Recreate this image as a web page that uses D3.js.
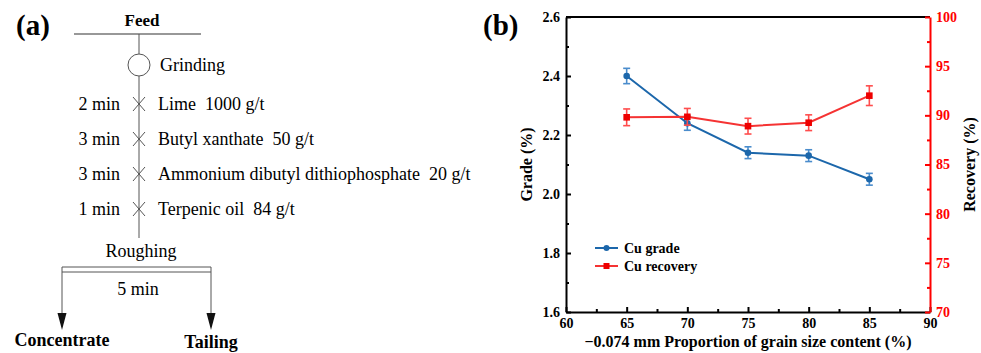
<!DOCTYPE html>
<html>
<head>
<meta charset="utf-8">
<script src="https://cdn.jsdelivr.net/npm/d3@7"></script>
<style>
  body { margin: 0; background: #fff; }
</style>
</head>
<body>
<div id="chart"></div>
<script>
// Panel (a): flowsheet steps
const stepTimes = ['2 min', '3 min', '3 min', '1 min'];
const stepReagents = ['Lime  1000 g/t', 'Butyl xanthate  50 g/t', 'Ammonium dibutyl dithiophosphate  20 g/t', 'Terpenic oil  84 g/t'];
const products = ['Concentrate', 'Tailing'];

// Panel (b): data
const sizeContent = [65, 70, 75, 80, 85];
const cuGrade = [2.40, 2.24, 2.14, 2.13, 2.05];
const cuGradeErr = [0.026, 0.024, 0.02, 0.02, 0.02];
const cuRecovery = [89.8, 89.85, 88.9, 89.25, 92.0];
const cuRecoveryErr = [0.85, 0.85, 0.8, 0.8, 1.0];
const xTicks = [60, 65, 70, 75, 80, 85, 90];
const gradeTicks = [1.6, 1.8, 2.0, 2.2, 2.4, 2.6];
const recoveryTicks = [70, 75, 80, 85, 90, 95, 100];

const FONT = 'Liberation Serif';
const W = 981, H = 353;
const svg = d3.select('#chart').append('svg')
    .attr('width', W)
    .attr('height', H)
    .attr('font-family', FONT);
svg.append('rect').attr('width', W).attr('height', H).attr('fill', '#fff');

// ---------- (a) ----------
const a = svg.append('g');
const grey = '#555';
const trunkX = 139;

a.append('text').attr('x', 16).attr('y', 35)
    .attr('font-size', 29).attr('font-weight', 'bold').text('(a)');

a.append('text').attr('x', 142).attr('y', 26).attr('text-anchor', 'middle')
    .attr('font-size', 17).attr('font-weight', 'bold').text('Feed');

a.append('line').attr('x1', 74).attr('x2', 201).attr('y1', 34).attr('y2', 34)
    .attr('stroke', '#333').attr('stroke-width', 1.2);

a.append('line').attr('x1', trunkX).attr('x2', trunkX).attr('y1', 34).attr('y2', 238)
    .attr('stroke', grey).attr('stroke-width', 1);

a.append('circle').attr('cx', trunkX).attr('cy', 65).attr('r', 11)
    .attr('fill', '#fff').attr('stroke', grey).attr('stroke-width', 1);
a.append('text').attr('x', 160).attr('y', 71)
    .attr('font-size', 18).text('Grinding');

const stepY = d3.scalePoint()
    .domain(d3.range(stepReagents.length))
    .range([104, 209]);

const steps = a.selectAll('.step')
    .data(stepReagents)
    .enter()
    .append('g')
    .attr('class', 'step')
    .attr('transform', (d, i) => `translate(${trunkX},${stepY(i)})`);

steps.append('path')
    .attr('d', 'M-6,-7L6,7M-6,7L6,-7')
    .attr('stroke', grey).attr('stroke-width', 1).attr('fill', 'none');

steps.append('text')
    .attr('x', -19).attr('y', 6)
    .attr('text-anchor', 'end')
    .attr('font-size', 18)
    .text((d, i) => stepTimes[i]);

steps.append('text')
    .attr('x', 19).attr('y', 6)
    .attr('font-size', 18)
    .style('white-space', 'pre')
    .text(d => d);

a.append('text').attr('x', 141).attr('y', 257).attr('text-anchor', 'middle')
    .attr('font-size', 18).text('Roughing');

a.append('line').attr('x1', 62).attr('x2', 211).attr('y1', 267).attr('y2', 267)
    .attr('stroke', grey).attr('stroke-width', 1);
a.append('line').attr('x1', 62).attr('x2', 211).attr('y1', 272).attr('y2', 272)
    .attr('stroke', grey).attr('stroke-width', 1);

a.append('text').attr('x', 138).attr('y', 295).attr('text-anchor', 'middle')
    .attr('font-size', 18).text('5 min');

const outX = [62, 211];
const outs = a.selectAll('.out')
    .data(products)
    .enter()
    .append('g')
    .attr('class', 'out')
    .attr('transform', (d, i) => `translate(${outX[i]},0)`);

outs.append('line').attr('y1', 267).attr('y2', 315)
    .attr('stroke', grey).attr('stroke-width', 1);
outs.append('path').attr('d', 'M-4.5,313L4.5,313L0,330Z').attr('fill', '#111');
outs.append('text')
    .attr('y', (d, i) => i === 0 ? 346 : 348)
    .attr('text-anchor', 'middle')
    .attr('font-size', 18).attr('font-weight', 'bold')
    .text(d => d);

// ---------- (b) ----------
const plot = { left: 566, right: 930, top: 17, bottom: 312 };
const blue = '#1c67ab', red = '#f53333';

const x = d3.scaleLinear().domain([60, 90]).range([plot.left, plot.right]);
const yG = d3.scaleLinear().domain([1.6, 2.6]).range([plot.bottom, plot.top]);
const yR = d3.scaleLinear().domain([70, 100]).range([plot.bottom, plot.top]);

const b = svg.append('g');

b.append('text').attr('x', 483).attr('y', 35)
    .attr('font-size', 29).attr('font-weight', 'bold').text('(b)');

// Top frame line
b.append('line').attr('x1', plot.left).attr('x2', plot.right)
    .attr('y1', plot.top).attr('y2', plot.top)
    .attr('stroke', '#000').attr('stroke-width', 2);

function styleAxis(g, color) {
    g.attr('font-family', FONT);
    g.select('.domain').attr('stroke', color).attr('stroke-width', 2);
    g.selectAll('.tick line').attr('stroke', color).attr('stroke-width', 2);
    g.selectAll('.tick text')
        .attr('fill', color)
        .attr('font-size', 14)
        .attr('font-weight', 'bold');
}

// Bottom axis
const gx = b.append('g')
    .attr('transform', `translate(0,${plot.bottom})`)
    .call(d3.axisBottom(x).tickValues(xTicks).tickSizeInner(-5).tickSizeOuter(0).tickPadding(6).tickFormat(d3.format('d')));
styleAxis(gx, '#000');
b.append('g')
    .attr('transform', `translate(0,${plot.bottom})`)
    .call(d3.axisBottom(x).tickValues(xTicks.slice(0, -1).map(v => v + 2.5)).tickSizeInner(-3).tickSizeOuter(0).tickFormat(''))
    .call(g => { g.select('.domain').remove(); g.selectAll('line').attr('stroke', '#000').attr('stroke-width', 2); });

// Left axis
const gy = b.append('g')
    .attr('transform', `translate(${plot.left},0)`)
    .call(d3.axisLeft(yG).tickValues(gradeTicks).tickSizeInner(-5).tickSizeOuter(0).tickPadding(6).tickFormat(d3.format('.1f')));
styleAxis(gy, '#000');
b.append('g')
    .attr('transform', `translate(${plot.left},0)`)
    .call(d3.axisLeft(yG).tickValues(gradeTicks.slice(0, -1).map(v => v + 0.1)).tickSizeInner(-3).tickSizeOuter(0).tickFormat(''))
    .call(g => { g.select('.domain').remove(); g.selectAll('line').attr('stroke', '#000').attr('stroke-width', 2); });

// Right axis
const gr = b.append('g')
    .attr('transform', `translate(${plot.right},0)`)
    .call(d3.axisRight(yR).tickValues(recoveryTicks).tickSizeInner(-5).tickSizeOuter(0).tickPadding(6).tickFormat(d3.format('d')));
styleAxis(gr, '#ff0000');
b.append('g')
    .attr('transform', `translate(${plot.right},0)`)
    .call(d3.axisRight(yR).tickValues(recoveryTicks.slice(0, -1).map(v => v + 2.5)).tickSizeInner(-3).tickSizeOuter(0).tickFormat(''))
    .call(g => { g.select('.domain').remove(); g.selectAll('line').attr('stroke', '#ff0000').attr('stroke-width', 2); });

// Axis titles
b.append('text')
    .attr('transform', `translate(532,${(plot.top + plot.bottom) / 2}) rotate(-90)`)
    .attr('text-anchor', 'middle')
    .attr('font-size', 16).attr('font-weight', 'bold')
    .text('Grade (%)');

b.append('text')
    .attr('transform', `translate(975,${(plot.top + plot.bottom) / 2}) rotate(-90)`)
    .attr('text-anchor', 'middle')
    .attr('font-size', 16).attr('font-weight', 'bold')
    .text('Recovery (%)');

b.append('text')
    .attr('x', (plot.left + plot.right) / 2).attr('y', 347)
    .attr('text-anchor', 'middle')
    .attr('font-size', 16).attr('font-weight', 'bold')
    .text('\u22120.074 mm Proportion of grain size content (%)');

// Series
function drawSeries(vals, errs, y, color, errColor, marker) {
    const pts = sizeContent.map((s, i) => ({ s, v: vals[i], e: errs[i] }));
    const g = b.append('g');

    const eb = g.selectAll('.eb').data(pts).enter().append('g')
        .attr('stroke', errColor).attr('stroke-width', 1.6).attr('fill', 'none');
    eb.append('line')
        .attr('x1', d => x(d.s)).attr('x2', d => x(d.s))
        .attr('y1', d => y(d.v - d.e)).attr('y2', d => y(d.v + d.e));
    eb.append('line')
        .attr('x1', d => x(d.s) - 3.5).attr('x2', d => x(d.s) + 3.5)
        .attr('y1', d => y(d.v + d.e)).attr('y2', d => y(d.v + d.e));
    eb.append('line')
        .attr('x1', d => x(d.s) - 3.5).attr('x2', d => x(d.s) + 3.5)
        .attr('y1', d => y(d.v - d.e)).attr('y2', d => y(d.v - d.e));

    g.append('path')
        .datum(pts)
        .attr('fill', 'none')
        .attr('stroke', color)
        .attr('stroke-width', 2)
        .attr('d', d3.line().x(d => x(d.s)).y(d => y(d.v)));

    if (marker === 'circle') {
        g.selectAll('.m').data(pts).enter().append('circle')
            .attr('cx', d => x(d.s)).attr('cy', d => y(d.v)).attr('r', 3.3)
            .attr('fill', color);
    } else {
        g.selectAll('.m').data(pts).enter().append('rect')
            .attr('x', d => x(d.s) - 3.3).attr('y', d => y(d.v) - 3.3)
            .attr('width', 6.6).attr('height', 6.6)
            .attr('fill', '#ee0000');
    }
}

drawSeries(cuGrade, cuGradeErr, yG, blue, '#4a8ccc', 'circle');
drawSeries(cuRecovery, cuRecoveryErr, yR, red, '#ff4d4d', 'square');

// Legend
const legendItems = [
    { label: 'Cu grade', color: blue, marker: 'circle' },
    { label: 'Cu recovery', color: red, marker: 'square' }
];
const legend = b.selectAll('.legend')
    .data(legendItems)
    .enter()
    .append('g')
    .attr('class', 'legend')
    .attr('transform', (d, i) => `translate(595,${248 + i * 18})`);

legend.append('line')
    .attr('x1', 0).attr('x2', 23)
    .attr('stroke', d => d.color).attr('stroke-width', 2);
legend.filter(d => d.marker === 'circle').append('circle')
    .attr('cx', 11.5).attr('r', 3).attr('fill', d => d.color);
legend.filter(d => d.marker === 'square').append('rect')
    .attr('x', 8.5).attr('y', -3).attr('width', 6).attr('height', 6).attr('fill', '#ee0000');
legend.append('text')
    .attr('x', 29).attr('y', 5)
    .attr('font-size', 14).attr('font-weight', 'bold')
    .text(d => d.label);
</script>
</body>
</html>
